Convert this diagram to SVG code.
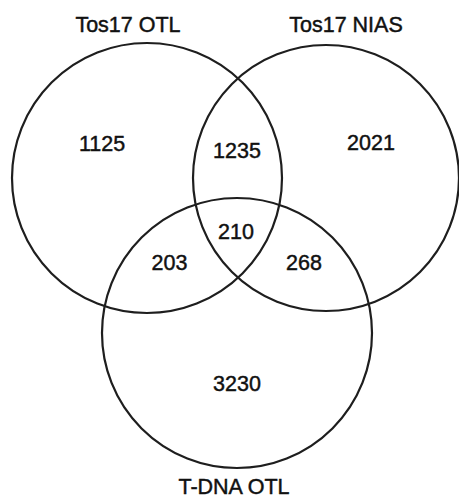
<svg xmlns="http://www.w3.org/2000/svg" width="459" height="501" viewBox="0 0 459 501">
<style>
.c{fill:none;stroke:#1e1e1e;stroke-width:2.2}
.t{font-family:"Liberation Sans",Arial,sans-serif;font-size:21.5px;fill:#111;stroke:#111;stroke-width:0.45;text-anchor:middle}
</style>
<rect width="459" height="501" fill="#fff"/>
<g id="set-tos17-otl">
<circle class="c" cx="147" cy="178" r="135"/>
<text class="t" x="128" y="32">Tos17 OTL</text>
</g>
<g id="set-tos17-nias">
<circle class="c" cx="326" cy="178" r="133"/>
<text class="t" x="346" y="32">Tos17 NIAS</text>
</g>
<g id="set-tdna-otl">
<circle class="c" cx="237" cy="333" r="135"/>
<text class="t" x="234" y="494">T-DNA OTL</text>
</g>
<g id="counts">
<text class="t" x="102" y="150.5">1125</text>
<text class="t" x="371" y="149.5">2021</text>
<text class="t" x="237" y="158">1235</text>
<text class="t" x="236" y="239">210</text>
<text class="t" x="169.5" y="270">203</text>
<text class="t" x="304" y="270">268</text>
<text class="t" x="237" y="391">3230</text>
</g>
</svg>
